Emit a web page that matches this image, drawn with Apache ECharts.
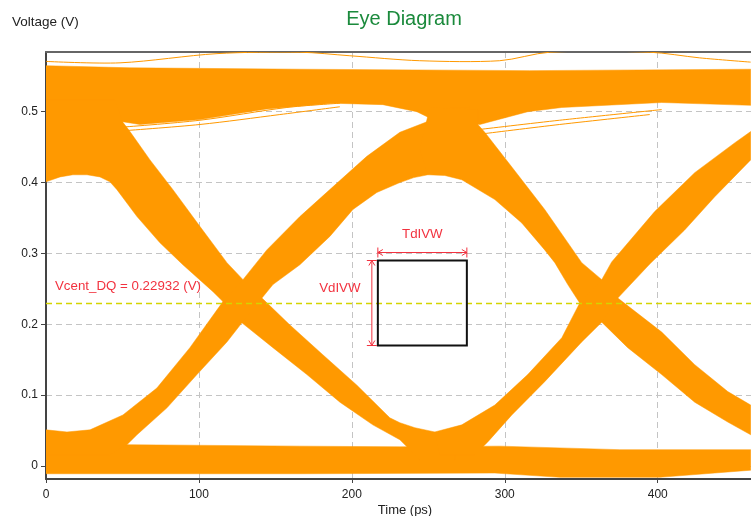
<!DOCTYPE html>
<html>
<head>
<meta charset="utf-8">
<script src="https://cdn.jsdelivr.net/npm/echarts@6/dist/echarts.min.js"></script>
<style>
html, body { margin: 0; padding: 0; background: #ffffff; }
#chart { width: 751px; height: 516px; }
</style>
</head>
<body>
<div id="chart"></div>
<script>
// Axis extents (ps / V) and tick values
const timeExtent = [0, 461];
const voltExtent = [-0.0184, 0.5843];
const timeTicks = [0, 100, 200, 300, 400];
const voltTicks = [0, 0.1, 0.2, 0.3, 0.4, 0.5];

// Measured receiver reference level and data-eye mask window
const vcentDQ = 0.22932;
const tdivwSpan = [217.0, 275.2];
const vdivwSpan = [0.170, 0.290];

// Envelope outlines of the overlaid waveforms, [time ps, volts]
const highRail = [
  [0, 0.565], [54.9, 0.562], [166.0, 0.560], [316.3, 0.558], [460.8, 0.560],
  [460.8, 0.509], [402.6, 0.513], [337.3, 0.506], [315.0, 0.500], [283.7, 0.482],
  [252.9, 0.489], [242.5, 0.500], [220.3, 0.510], [187.6, 0.512], [144.4, 0.504],
  [100.7, 0.489], [61.4, 0.482], [0, 0.503]
];
const lowRail = [
  [0, 0.031], [54.9, 0.030], [166.0, 0.028], [231.4, 0.027], [296.7, 0.028],
  [375.2, 0.023], [460.8, 0.023], [460.8, -0.006], [401.3, -0.016], [336.0, -0.016],
  [293.5, -0.010], [166.0, -0.011], [0, -0.011]
];
const fallEdgeA = [
  [0, 0.517], [45.1, 0.517], [50.3, 0.485], [54.9, 0.472], [68.0, 0.432],
  [83.0, 0.390], [100.7, 0.338], [118.3, 0.287], [128.8, 0.263], [141.2, 0.237],
  [159.5, 0.199], [181.0, 0.157], [203.3, 0.114], [224.8, 0.068], [231.4, 0.061],
  [241.2, 0.054], [254.2, 0.048], [267.3, 0.027], [267.3, 0.009], [244.4, 0.009],
  [231.4, 0.037], [213.7, 0.058], [192.2, 0.090], [170.6, 0.129], [148.4, 0.167],
  [128.1, 0.202], [115.7, 0.232], [109.2, 0.246], [89.5, 0.284], [74.5, 0.315],
  [59.5, 0.352], [46.4, 0.390], [41.8, 0.401], [35.3, 0.408], [26.8, 0.411],
  [17.6, 0.411], [9.2, 0.408], [0, 0.401]
];
const riseEdgeA = [
  [0, 0.016], [0, 0.051], [13.7, 0.048], [28.8, 0.051], [50.3, 0.072],
  [72.5, 0.110], [94.1, 0.167], [115.7, 0.232], [128.8, 0.263], [144.4, 0.305],
  [166.0, 0.352], [187.6, 0.394], [209.8, 0.437], [231.4, 0.471], [252.9, 0.489],
  [264.1, 0.506], [277.1, 0.506], [267.3, 0.461], [249.7, 0.411], [240.5, 0.407],
  [231.4, 0.400], [216.3, 0.386], [200.7, 0.362], [185.6, 0.324], [166.0, 0.284],
  [148.4, 0.256], [141.2, 0.237], [128.1, 0.202], [118.3, 0.175], [98.7, 0.129],
  [79.1, 0.082], [59.5, 0.044], [52.9, 0.030], [41.8, 0.016]
];
const fallEdgeB = [
  [251.0, 0.506], [282.4, 0.503], [282.4, 0.482], [286.9, 0.471], [304.6, 0.422],
  [326.1, 0.362], [350.3, 0.287], [363.4, 0.263], [373.9, 0.237], [402.6, 0.189],
  [424.2, 0.143], [445.8, 0.105], [460.8, 0.086], [460.8, 0.044], [445.8, 0.062],
  [424.2, 0.090], [402.6, 0.129], [380.4, 0.167], [363.4, 0.203], [349.0, 0.230],
  [341.2, 0.256], [332.7, 0.287], [326.1, 0.305], [311.1, 0.343], [293.5, 0.376],
  [271.9, 0.404], [260.8, 0.410], [249.7, 0.411], [244.4, 0.447]
];
const riseEdgeB = [
  [257.5, 0.016], [254.2, 0.048], [271.9, 0.058], [293.5, 0.086], [315.0, 0.129],
  [337.3, 0.181], [349.0, 0.230], [363.4, 0.263], [369.9, 0.288], [398.0, 0.359],
  [424.2, 0.414], [450.3, 0.456], [460.8, 0.472], [460.8, 0.432], [437.3, 0.380],
  [417.6, 0.333], [394.8, 0.285], [373.9, 0.237], [363.4, 0.203], [350.3, 0.175],
  [326.1, 0.119], [304.6, 0.072], [288.9, 0.034], [280.4, 0.016]
];

// Individual outlier traces that stray from the main envelopes
const strayTop = [
  [0, 0.571], [48.4, 0.569], [111.8, 0.582], [166.0, 0.584], [198.7, 0.579],
  [244.4, 0.572], [296.7, 0.572], [329.4, 0.584], [394.8, 0.584], [427.5, 0.576], [460.8, 0.570]
];
const strayEyeA1 = [[48.4, 0.478], [100.7, 0.488], [157.5, 0.506], [192.2, 0.512]];
const strayEyeA2 = [[49.7, 0.473], [100.7, 0.482], [152.9, 0.496], [192.2, 0.507]];
const strayEyeB1 = [[283.7, 0.475], [335.9, 0.488], [402.6, 0.503]];
const strayEyeB2 = [[286.3, 0.469], [335.9, 0.482], [394.8, 0.496]];

const WAVE = '#ff9900';
const MARK = '#f2323f';
const FONT = '"Liberation Sans", Arial, sans-serif';

function envelopeSeries(points) {
  return {
    type: 'custom',
    coordinateSystem: 'cartesian2d',
    silent: true,
    clip: true,
    z: 3,
    data: [points[0]],
    renderItem: (params, api) => ({
      type: 'polygon',
      shape: { points: points.map(p => api.coord(p)) },
      style: { fill: WAVE, stroke: WAVE, lineWidth: 0.5 }
    })
  };
}

function strayLines(lines) {
  return {
    type: 'custom',
    coordinateSystem: 'cartesian2d',
    silent: true,
    clip: true,
    z: 3,
    data: lines.map(l => l[0]),
    renderItem: (params, api) => ({
      type: 'polyline',
      shape: { points: lines[params.dataIndex].map(p => api.coord(p)), smooth: 0.3 },
      style: { stroke: WAVE, lineWidth: 1, fill: null }
    })
  };
}

// Reference level line, mask window, dimension arrows and their captions
const annotationSeries = {
  type: 'custom',
  coordinateSystem: 'cartesian2d',
  silent: true,
  z: 5,
  data: [[tdivwSpan[0], vdivwSpan[0]]],
  renderItem: (params, api) => {
    const c = p => api.coord(p);
    const vl = c([timeExtent[0], vcentDQ]), vr = c([timeExtent[1], vcentDQ]);
    const bl = c([tdivwSpan[0], vdivwSpan[0]]);
    const tr = c([tdivwSpan[1], vdivwSpan[1]]);
    const arrowY = tr[1] - 8;
    const arrowX = bl[0] - 6;
    const red = { stroke: MARK, lineWidth: 1, fill: null };
    const font = '13.3px ' + FONT;
    const children = [
      { type: 'line', shape: { x1: vl[0], y1: vl[1], x2: vr[0], y2: vr[1] },
        style: { stroke: '#d4d400', lineWidth: 1.5, lineDash: [6, 4] } },
      { type: 'rect', shape: { x: bl[0], y: tr[1], width: tr[0] - bl[0], height: bl[1] - tr[1] },
        style: { stroke: '#111111', lineWidth: 2, fill: null } },
      // horizontal arrow (time window)
      { type: 'line', shape: { x1: bl[0], y1: arrowY, x2: tr[0], y2: arrowY }, style: red },
      { type: 'line', shape: { x1: bl[0], y1: arrowY - 5, x2: bl[0], y2: arrowY + 5 }, style: red },
      { type: 'line', shape: { x1: tr[0], y1: arrowY - 5, x2: tr[0], y2: arrowY + 5 }, style: red },
      { type: 'polyline', shape: { points: [[bl[0] + 5, arrowY - 3], [bl[0], arrowY], [bl[0] + 5, arrowY + 3]] }, style: red },
      { type: 'polyline', shape: { points: [[tr[0] - 5, arrowY - 3], [tr[0], arrowY], [tr[0] - 5, arrowY + 3]] }, style: red },
      // vertical arrow (voltage window)
      { type: 'line', shape: { x1: arrowX, y1: tr[1], x2: arrowX, y2: bl[1] }, style: red },
      { type: 'line', shape: { x1: arrowX - 5, y1: tr[1], x2: arrowX + 5, y2: tr[1] }, style: red },
      { type: 'line', shape: { x1: arrowX - 5, y1: bl[1], x2: arrowX + 5, y2: bl[1] }, style: red },
      { type: 'polyline', shape: { points: [[arrowX - 3, tr[1] + 5], [arrowX, tr[1]], [arrowX + 3, tr[1] + 5]] }, style: red },
      { type: 'polyline', shape: { points: [[arrowX - 3, bl[1] - 5], [arrowX, bl[1]], [arrowX + 3, bl[1] - 5]] }, style: red },
      { type: 'text', x: (bl[0] + tr[0]) / 2, y: arrowY - 18,
        style: { text: 'TdIVW', fill: MARK, font, align: 'center', verticalAlign: 'middle' } },
      { type: 'text', x: arrowX - 32, y: (bl[1] + tr[1]) / 2 - 15,
        style: { text: 'VdIVW', fill: MARK, font, align: 'center', verticalAlign: 'middle' } },
      { type: 'text', x: vl[0] + 9, y: vl[1] - 17,
        style: { text: 'Vcent_DQ = 0.22932 (V)', fill: MARK, font, align: 'left', verticalAlign: 'middle' } }
    ];
    return { type: 'group', children };
  }
};

const chart = echarts.init(document.getElementById('chart'), null, { renderer: 'canvas' });
chart.setOption({
  animation: false,
  backgroundColor: '#ffffff',
  grid: { left: 46, right: 0, top: 52, bottom: 37, containLabel: false },
  graphic: [
    { type: 'text', x: 404, y: 19, style: { text: 'Eye Diagram', fill: '#1b8a3c', font: '20px ' + FONT, align: 'center', verticalAlign: 'middle' } },
    { type: 'text', x: 12, y: 22, style: { text: 'Voltage (V)', fill: '#222222', font: '13.5px ' + FONT, align: 'left', verticalAlign: 'middle' } },
    { type: 'text', x: 405, y: 510, style: { text: 'Time (ps)', fill: '#222222', font: '13px ' + FONT, align: 'center', verticalAlign: 'middle' } }
  ],
  xAxis: [{
    type: 'value', min: timeExtent[0], max: timeExtent[1],
    axisLine: { show: true, onZero: false, lineStyle: { color: '#444444', width: 2 } },
    axisTick: { show: true, length: 4, customValues: timeTicks, lineStyle: { color: '#444444' } },
    axisLabel: { customValues: timeTicks, color: '#222222', fontSize: 12, fontFamily: FONT, margin: 10 },
    splitLine: { show: true, lineStyle: { color: '#c4c4c4', type: [6, 4], width: 1 } }
  }, {
    type: 'value', position: 'top', min: timeExtent[0], max: timeExtent[1],
    axisLine: { show: true, onZero: false, lineStyle: { color: '#666666', width: 2 } },
    axisTick: { show: false }, axisLabel: { show: false }, splitLine: { show: false }
  }],
  yAxis: {
    type: 'value', min: voltExtent[0], max: voltExtent[1],
    axisLine: { show: true, onZero: false, lineStyle: { color: '#444444', width: 2 } },
    axisTick: { show: true, length: 5, customValues: voltTicks, lineStyle: { color: '#444444' } },
    axisLabel: { customValues: voltTicks, color: '#222222', fontSize: 12, fontFamily: FONT, margin: 8 },
    splitLine: { show: true, lineStyle: { color: '#c4c4c4', type: [6, 4], width: 1 } }
  },
  series: [
    envelopeSeries(highRail),
    envelopeSeries(lowRail),
    envelopeSeries(fallEdgeA),
    envelopeSeries(riseEdgeA),
    envelopeSeries(fallEdgeB),
    envelopeSeries(riseEdgeB),
    strayLines([strayTop, strayEyeA1, strayEyeA2, strayEyeB1, strayEyeB2]),
    annotationSeries
  ]
});
</script>
</body>
</html>
